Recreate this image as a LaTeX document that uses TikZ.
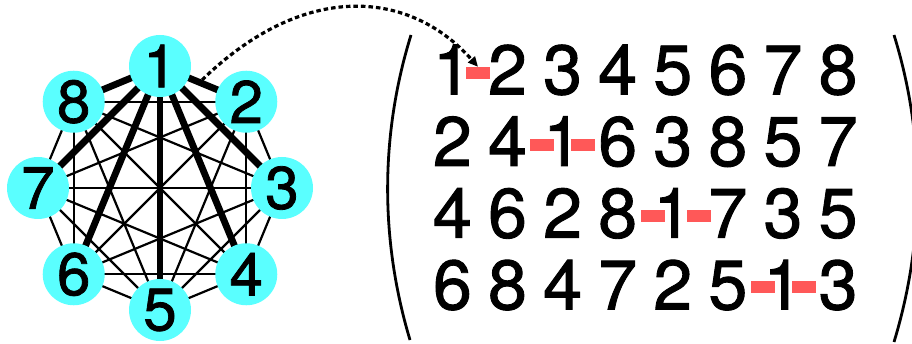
\documentclass[tikz,border=0pt]{standalone}
\usepackage{fontspec}
\setmainfont{TeX Gyre Heros}
\newfontfamily\digitfont{TeX Gyre Heros}[FakeBold=1.3]
\usetikzlibrary{arrows.meta,backgrounds}
\definecolor{nodecyan}{RGB}{90,255,255}
\definecolor{dashred}{RGB}{255,88,88}
\begin{document}
\begin{tikzpicture}[x=1pt,y=-1pt,
  vtx/.style={circle,fill=nodecyan,minimum size=62pt,inner sep=0pt,font=\digitfont\fontsize{60}{60}\selectfont},
  thinedge/.style={line width=2.2pt},
  thickedge/.style={line width=6.8pt},
  entry/.style={anchor=base,inner sep=0pt,font=\digitfont\fontsize{70}{70}\selectfont},
  reddash/.style={fill=dashred,minimum width=24pt,minimum height=12pt,inner sep=0pt},
  paren/.style={line width=2.8pt},
  link/.style={line width=3.2pt,dash pattern=on 4.5pt off 3pt,-{Triangle[length=10pt,width=9pt]}}
]
\useasboundingbox (0,0) rectangle (912,344);
% graph nodes
\foreach \k in {1,...,8}{
  \node[vtx] (v\k) at ({160+122*sin(45*(\k-1))},{188-122*cos(45*(\k-1))}) {\k};
}
\begin{scope}[on background layer]
  \foreach \i in {2,...,7}{
    \pgfmathtruncatemacro{\s}{\i+1}
    \foreach \j in {\s,...,8}{
      \draw[thinedge] (v\i.center) -- (v\j.center);
    }
  }
  \foreach \j in {2,...,8}{
    \draw[thickedge] (v1.center) -- (v\j.center);
  }
\end{scope}
% matrix entries
\foreach \row [count=\r] in {{1,2,3,4,5,6,7,8},{2,4,1,6,3,8,5,7},{4,6,2,8,1,7,3,5},{6,8,4,7,2,5,1,3}}{
  \foreach \d [count=\c] in \row{
    \node[entry] (m\r\c) at ({452.4+55.1*(\c-1)},{94.3+71.7*(\r-1)}) {\d};
  }
}
% red dashes
\node[reddash] (d1) at (478,73) {};
\node[reddash] (d2) at (541.5,145.5) {};
\node[reddash] (d3) at (582.5,145.5) {};
\node[reddash] (d4) at (652.5,216) {};
\node[reddash] (d5) at (698.5,216) {};
\node[reddash] (d6) at (763,287) {};
\node[reddash] (d7) at (803.5,287) {};
% parentheses
\draw[paren] (411,35) .. controls (380,135) and (380,240) .. (410,340);
\draw[paren] (894,35) .. controls (925,135) and (925,240) .. (894,342);
% arrow
\coordinate (astart) at (202,80);
\draw[link] (astart) .. controls (305,-20) and (410,-10) .. (d1.north);
\end{tikzpicture}
\end{document}
